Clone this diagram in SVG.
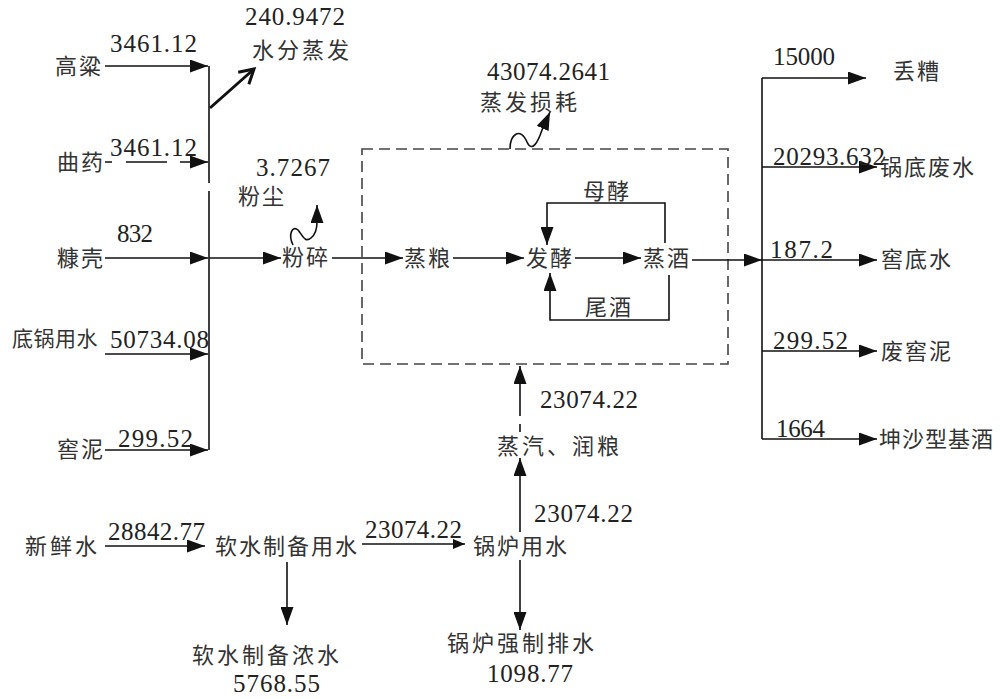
<svg xmlns="http://www.w3.org/2000/svg" width="1005" height="699" viewBox="0 0 1005 699">
<style>
.cn{font-family:"Noto Sans CJK SC","Noto Sans",sans-serif;font-size:22px;fill:#333;letter-spacing:2px}
.num{font-family:"Liberation Serif","DejaVu Serif",serif;font-size:25px;fill:#222}
.ln{fill:none;stroke:#111;stroke-width:1.6}
.dash{fill:none;stroke:#444;stroke-width:1.6;stroke-dasharray:11,6}
</style>
<defs>
<marker id="ah" markerUnits="userSpaceOnUse" markerWidth="18" markerHeight="13" refX="18" refY="6.5" orient="auto">
<path d="M0,0 L18,6.5 L0,13 z" fill="#111"/>
</marker>
<marker id="ahs" markerUnits="userSpaceOnUse" markerWidth="12" markerHeight="10" refX="12" refY="5" orient="auto">
<path d="M0,0 L12,5 L0,10 z" fill="#111"/>
</marker>
<marker id="open" markerUnits="userSpaceOnUse" markerWidth="20" markerHeight="20" refX="16" refY="10" orient="auto">
<path d="M2,2 L16,10 L2,18" fill="none" stroke="#111" stroke-width="3"/>
</marker>
</defs>
<rect width="1005" height="699" fill="#fff"/>

<g id="connectors">
<path class="ln" d="M105,66 H208" marker-end="url(#ah)"/>
<path class="ln" d="M105,162 h7 M126,162 h41 M180,162 H208" marker-end="url(#ah)"/>
<path class="ln" d="M105,258 H208" marker-end="url(#ah)"/>
<path class="ln" d="M105,354 H208" marker-end="url(#ah)"/>
<path class="ln" d="M105,450 H208" marker-end="url(#ah)"/>
<path class="ln" d="M209,66 V183 M209,191 V450"/>
<path fill="none" stroke="#111" stroke-width="3" d="M210,108 L254,69" marker-end="url(#open)"/>
<path class="ln" d="M209,258 H281" marker-end="url(#ah)"/>
<path class="ln" d="M293,245 C288,235 292,225 298,230 C303,236 305,243 311,238 C316,234 317,229 317,222 V205" marker-end="url(#ah)"/>
<path class="ln" d="M332,258 H403" marker-end="url(#ah)"/>
<rect class="dash" x="362" y="149" width="366" height="215"/>
<path class="ln" d="M510,149 C510,135 520,126 527,142 C532,153 538,142 542,130 L550,112" marker-end="url(#ah)"/>
<path class="ln" d="M453,258 H524" marker-end="url(#ah)"/>
<path class="ln" d="M575,258 H641" marker-end="url(#ah)"/>
<path class="ln" d="M665,243 V203 H547 V245" marker-end="url(#ah)"/>
<path class="ln" d="M669,275 V320 H550 V273" marker-end="url(#ah)"/>
<path class="ln" d="M692,260 H762" marker-end="url(#ah)"/>
<path class="ln" d="M762,78 V439"/>
<path class="ln" d="M762,78 H866" marker-end="url(#ah)"/>
<path class="ln" d="M762,167 H877" marker-end="url(#ah)"/>
<path class="ln" d="M762,260 H877" marker-end="url(#ah)"/>
<path class="ln" d="M762,351 H877" marker-end="url(#ah)"/>
<path class="ln" d="M762,439 H877" marker-end="url(#ah)"/>
<path class="ln" d="M520,432 V424 M520,416 V366" marker-end="url(#ah)"/>
<path class="ln" d="M520,532 V458" marker-end="url(#ah)"/>
<path class="ln" d="M520,560 V630" marker-end="url(#ah)"/>
<path class="ln" d="M105,546 H205" marker-end="url(#ah)"/>
<path class="ln" d="M362,544 H465" marker-end="url(#ahs)"/>
<path class="ln" d="M287,562 V625" marker-end="url(#ah)"/>
</g>

<g id="n-gaoliang"><text class="cn" x="55" y="74">高粱</text><text class="num" x="110" y="52" textLength="87">3461.12</text></g>
<g id="n-quyao"><text class="cn" x="57" y="170">曲药</text><text class="num" x="110" y="156" textLength="87">3461.12</text></g>
<g id="n-kangke"><text class="cn" x="57" y="266">糠壳</text><text class="num" x="117" y="242" textLength="36">832</text></g>
<g id="n-diguo"><text class="cn" x="12" y="346" style="font-size:21px;letter-spacing:0.5px">底锅用水</text><text class="num" x="110" y="348" textLength="99">50734.08</text></g>
<g id="n-jiaoni"><text class="cn" x="57" y="457">窖泥</text><text class="num" x="118" y="447" textLength="75">299.52</text></g>
<g id="n-shuifen"><text class="num" x="245" y="25" textLength="100">240.9472</text><text class="cn" x="252" y="58" style="letter-spacing:3px">水分蒸发</text></g>
<g id="n-fenchen"><text class="num" x="256" y="176" textLength="74">3.7267</text><text class="cn" x="238" y="204">粉尘</text></g>
<g id="n-fensui"><text class="cn" x="282" y="265">粉碎</text></g>
<g id="n-zhengfa"><text class="num" x="487" y="80" textLength="123">43074.2641</text><text class="cn" x="480" y="110" style="letter-spacing:3px">蒸发损耗</text></g>
<g id="n-zhengliang"><text class="cn" x="404" y="266">蒸粮</text></g>
<g id="n-fajiao"><text class="cn" x="526" y="266">发酵</text></g>
<g id="n-zhengjiu"><text class="cn" x="643" y="266">蒸酒</text></g>
<g id="n-mujiao"><text class="cn" x="583" y="199">母酵</text></g>
<g id="n-weijiu"><text class="cn" x="585" y="315">尾酒</text></g>
<g id="n-diuzao"><text class="num" x="773" y="65" textLength="62">15000</text><text class="cn" x="893" y="79">丢糟</text></g>
<g id="n-guodi"><text class="num" x="773" y="165" textLength="112">20293.632</text><text class="cn" x="880" y="175">锅底废水</text></g>
<g id="n-jiaodishui"><text class="num" x="770" y="258" textLength="63">187.2</text><text class="cn" x="881" y="267">窖底水</text></g>
<g id="n-feijiaoni"><text class="num" x="773" y="349" textLength="75">299.52</text><text class="cn" x="881" y="359">废窖泥</text></g>
<g id="n-jijiu"><text class="num" x="776" y="437" textLength="49">1664</text><text class="cn" x="879" y="447" style="letter-spacing:1px">坤沙型基酒</text></g>
<g id="n-zhengqi"><text class="num" x="540" y="408" textLength="98">23074.22</text><text class="cn" x="497" y="454" style="letter-spacing:3px">蒸汽、润粮</text><text class="num" x="534" y="522" textLength="99">23074.22</text></g>
<g id="n-xinxian"><text class="cn" x="25" y="554" style="letter-spacing:3px">新鲜水</text><text class="num" x="108" y="540" textLength="97">28842.77</text></g>
<g id="n-ruanshui"><text class="cn" x="215" y="554">软水制备用水</text><text class="num" x="365" y="538" textLength="97">23074.22</text></g>
<g id="n-guolu"><text class="cn" x="473" y="554">锅炉用水</text></g>
<g id="n-nongshui"><text class="cn" x="192" y="663" style="letter-spacing:3px">软水制备浓水</text><text class="num" x="233" y="692" textLength="87">5768.55</text></g>
<g id="n-paishui"><text class="cn" x="447" y="651" style="letter-spacing:3px">锅炉强制排水</text><text class="num" x="487" y="682" textLength="86">1098.77</text></g>
</svg>
